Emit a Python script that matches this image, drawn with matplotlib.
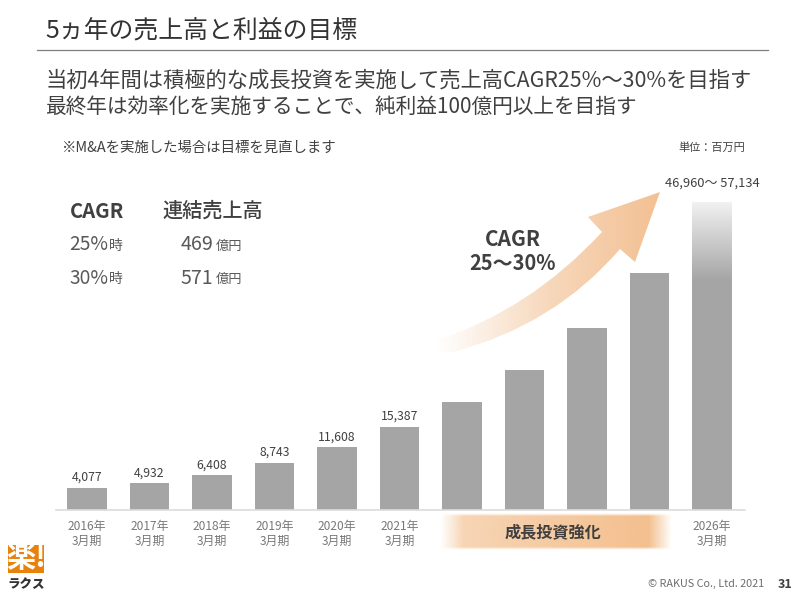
import numpy as np
import matplotlib
matplotlib.use('Agg')
import matplotlib.pyplot as plt
from matplotlib.colors import LinearSegmentedColormap
from matplotlib.patches import PathPatch, Rectangle
from matplotlib.path import Path

plt.rcParams['font.family'] = ['Noto Sans CJK JP', 'DejaVu Sans']

# data (millions of yen); 2022-2025 bars have no labels
years = ['2016年\n3月期', '2017年\n3月期', '2018年\n3月期', '2019年\n3月期', '2020年\n3月期',
         '2021年\n3月期', '', '', '', '', '2026年\n3月期']
sales = [4077, 4932, 6408, 8743, 11608, 15387, 20000, 25900, 33700, 43900, 57134]
value_labels = ['4,077', '4,932', '6,408', '8,743', '11,608', '15,387', '', '', '', '', '']
target_label = '46,960〜 57,134'
solid_limit = 42700

GREY = '#a5a5a5'
DARK = '#404040'
MID = '#595959'

fig = plt.figure(figsize=(7.98, 5.96), dpi=100)

# bar chart: slots are 62.5 px wide, baseline at y=510 px
ax = fig.add_axes([56 / 798, (596 - 510) / 596, 689 / 798, 340 / 596])
ax.set_xlim(-0.496, 10.528)
ax.set_ylim(0, 340 / 5.39 * 1000)
bars = ax.bar(range(len(sales)), sales, width=0.625, color=GREY)
ax.bar_label(bars, labels=value_labels, padding=3, fontsize=8.8, color=DARK)
ax.set_xticks(range(len(years)), years)
ax.tick_params(axis='x', length=0, pad=7, labelsize=8.6, labelcolor='#787878')
ax.set_yticks([])
for s in ['top', 'left', 'right']:
    ax.spines[s].set_visible(False)
ax.spines['bottom'].set_color('#dcdcdc')
ax.spines['bottom'].set_linewidth(1.2)

# last bar fades out towards the top
last = bars[-1]
x0 = last.get_x()
last.set_alpha(0)
fade = LinearSegmentedColormap.from_list('fade', ['#f2f2f2', GREY])
ax.imshow(np.linspace(0, 1, 256).reshape(-1, 1), cmap=fade, aspect='auto', zorder=2,
          extent=[x0, x0 + last.get_width(), solid_limit, sales[-1]], origin='upper')
ax.add_patch(Rectangle((x0, 0), last.get_width(), solid_limit, color=GREY, lw=0, zorder=2))
ax.set_xlim(-0.496, 10.528)
ax.set_ylim(0, 340 / 5.39 * 1000)
ax.annotate(target_label, (10, sales[-1]), xytext=(0, 11), textcoords='offset points',
            ha='center', fontsize=9.3, color=DARK)

# overlay in pixel coordinates for the slide furniture
pix = fig.add_axes([0, 0, 1, 1], zorder=3)
pix.set_xlim(0, 798)
pix.set_ylim(596, 0)
pix.axis('off')
pix.patch.set_alpha(0)

pix.text(45, 31, '5ヵ年の売上高と利益の目標', fontsize=17.9, color='#333333', va='center')
pix.plot([37, 768], [50, 50], color='#7f7f7f', lw=0.9)
pix.text(46, 81, '当初4年間は積極的な成長投資を実施して売上高CAGR25%〜30%を目指す',
         fontsize=15.35, color=DARK, va='center')
pix.text(46, 107, '最終年は効率化を実施することで、純利益100億円以上を目指す',
         fontsize=14.9, color=DARK, va='center')
pix.text(61, 148, '※M&Aを実施した場合は目標を見直します', fontsize=10.4, color=DARK, va='center')
pix.text(678, 148, '単位：百万円', fontsize=8, color=DARK, va='center')

# CAGR table
pix.text(70, 211, 'CAGR', fontsize=14.5, fontweight='bold', color=DARK, va='center')
pix.text(162, 211, '連結売上高', fontsize=14.5, fontweight='medium', color=DARK, va='center')
pix.text(69, 245, '25%', fontsize=13.8, color=MID, va='center')
pix.text(69, 278, '30%', fontsize=13.8, color=MID, va='center')
pix.text(109, 246, '時', fontsize=10, color=MID, va='center', ha='left')
pix.text(109, 279, '時', fontsize=10, color=MID, va='center', ha='left')
pix.text(181, 245, '469', fontsize=14.2, color=MID, va='center')
pix.text(181, 278, '571', fontsize=14.2, color=MID, va='center')
pix.text(216, 246, '億円', fontsize=9.5, color=MID, va='center')
pix.text(216, 279, '億円', fontsize=9.5, color=MID, va='center')

# growth arrow
verts = [(437, 340), (530, 310), (602, 232), (588, 217), (660, 192),
         (635, 262), (620, 249), (555, 325), (453, 352), (437, 352), (437, 340)]
codes = [Path.MOVETO, Path.CURVE3, Path.CURVE3, Path.LINETO, Path.LINETO,
         Path.LINETO, Path.LINETO, Path.CURVE3, Path.CURVE3,
         Path.LINETO, Path.CLOSEPOLY]
arrow = PathPatch(Path(verts, codes), facecolor='none', edgecolor='none')
pix.add_patch(arrow)
orange = LinearSegmentedColormap.from_list('orange', ['#ffffff', '#f7d8bc', '#f3c093'])
im = pix.imshow(np.linspace(0, 1, 256).reshape(1, -1), cmap=orange, aspect='auto',
                extent=[437, 660, 352, 192], zorder=2)
im.set_clip_path(arrow)
pix.text(513, 239, 'CAGR', fontsize=15, fontweight='bold', color=DARK, ha='center', va='center', zorder=4)
pix.text(513, 263, '25〜30%', fontsize=14.4, fontweight='bold', color=DARK, ha='center', va='center', zorder=4)

# band under the unlabelled bars
xs = np.linspace(0, 1, 256)
band = np.zeros((64, 256, 4))
band[..., :3] = matplotlib.colors.to_rgb('#f3bd8a')
band[..., 3] = (np.clip(xs / 0.1, 0, 1) * np.clip((1 - xs) / 0.1, 0, 1) * (0.6 + 0.4 * xs))[None, :]
band[..., 3] *= np.clip(np.minimum(np.linspace(0, 1, 64), np.linspace(1, 0, 64)) / 0.08, 0, 1)[:, None]
pix.imshow(band, aspect='auto', extent=[440, 672, 550, 513], zorder=2)
pix.text(553, 532, '成長投資強化', fontsize=11.6, fontweight='bold', color=DARK, ha='center', va='center', zorder=4)

# logo and footer
logo = Rectangle((8, 545), 36, 28, color='#e8820c', lw=0)
pix.add_patch(logo)
logo_text = pix.text(26, 558, '楽!', fontsize=21, fontweight='bold', color='white', ha='center', va='center')
logo_text.set_clip_path(logo)
pix.text(26, 584, 'ラクス', fontsize=9, fontweight='black', color='#333333', ha='center', va='center')
pix.text(648, 584, '© RAKUS Co., Ltd. 2021', fontsize=7.8, color='#6e6e6e', va='center')
pix.text(778, 584, '31', fontsize=9, fontweight='bold', color=DARK, va='center')
pix.set_xlim(0, 798)
pix.set_ylim(596, 0)

fig.savefig('out.png', dpi=100)
